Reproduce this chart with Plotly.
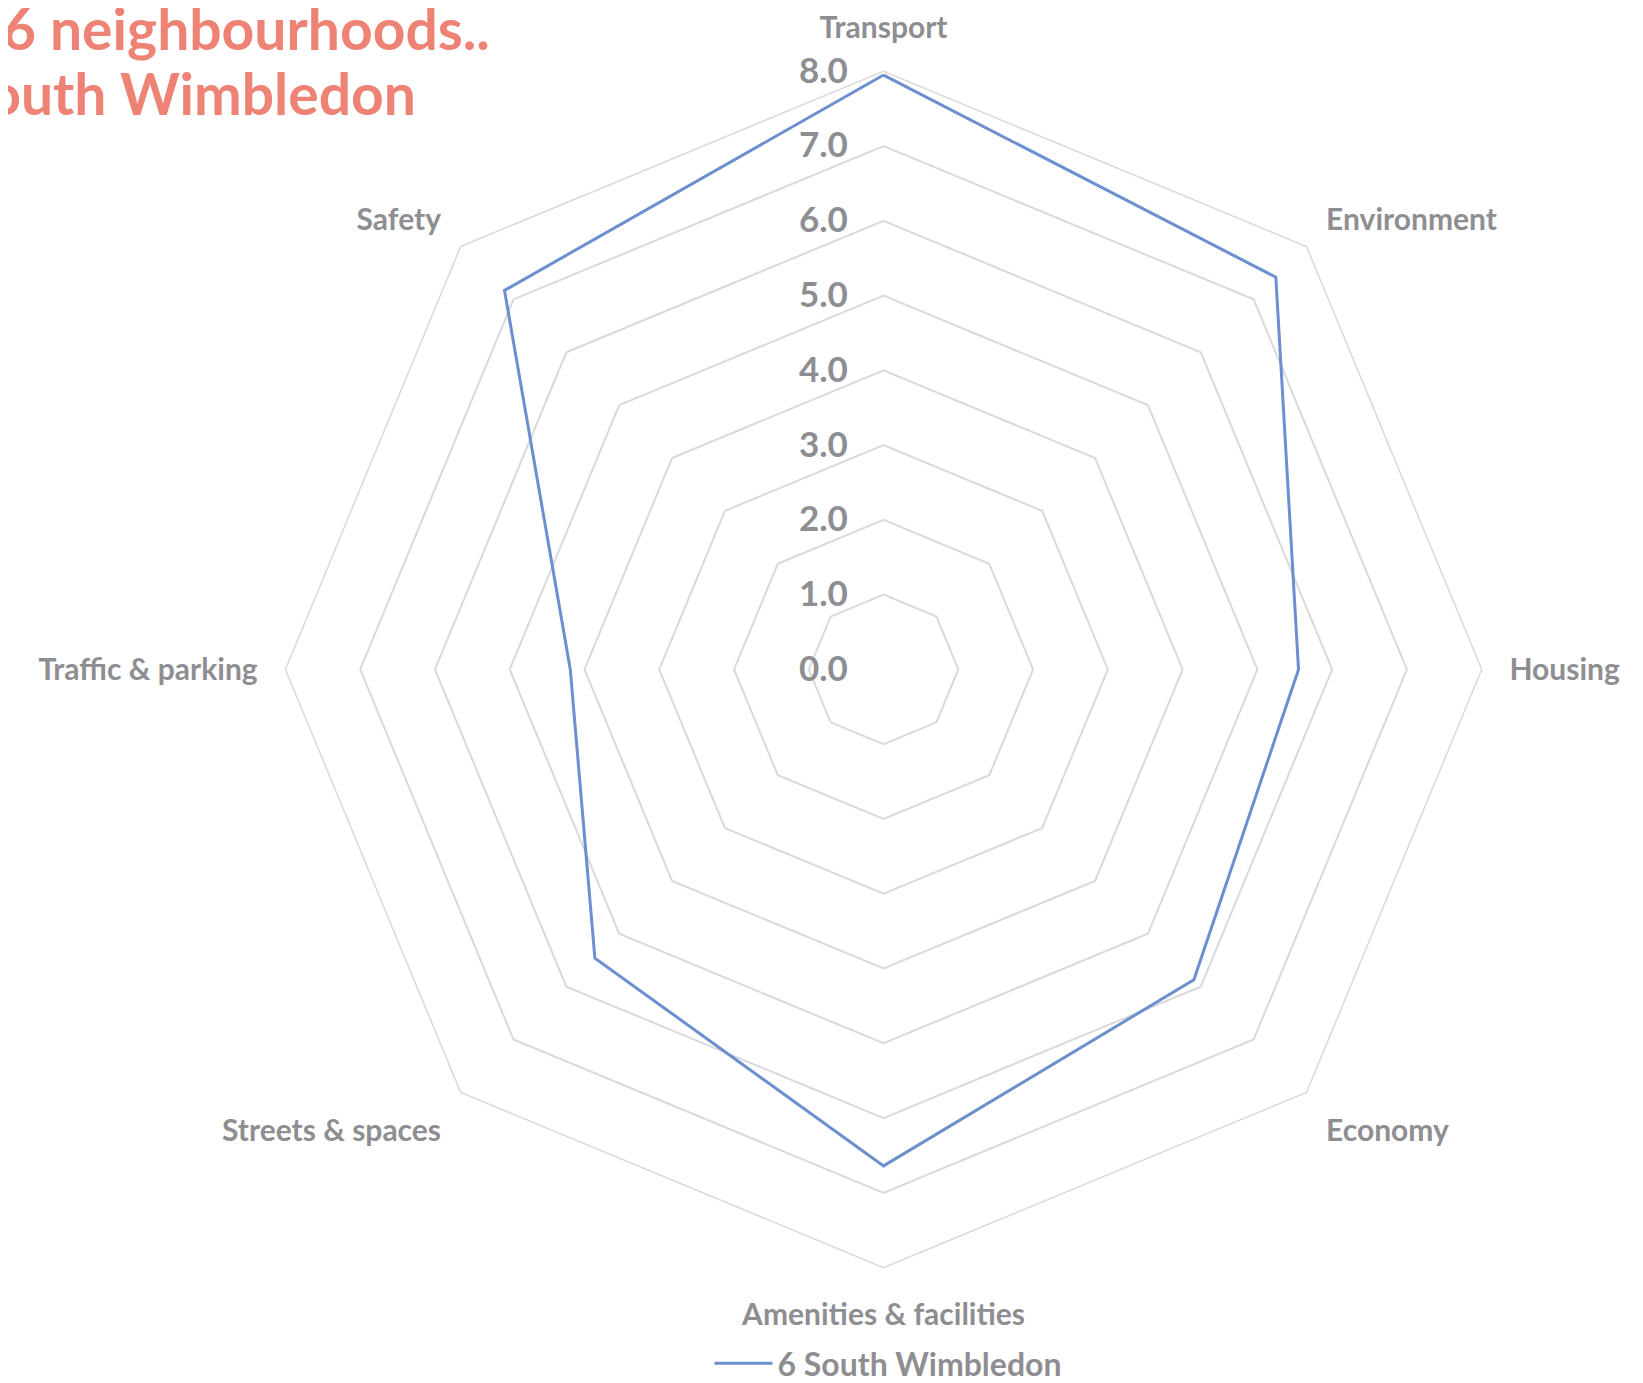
import plotly.graph_objects as go

# categories and values
categories = ["Transport", "Environment", "Housing", "Economy",
              "Amenities & facilities", "Streets & spaces", "Traffic & parking", "Safety"]
scores = [7.95, 7.42, 5.55, 5.87, 6.64, 5.46, 4.19, 7.17]
series_name = "6 South Wimbledon"
title_lines = ["Q6 neighbourhoods..", "South Wimbledon"]

grey = "#8e8e92"
grid = "#d9d9d9"

fig = go.Figure()
fig.add_trace(go.Scatterpolar(
    r=scores + scores[:1],
    theta=categories + categories[:1],
    mode="lines",
    name=series_name,
    line=dict(color="#6b8fcf", width=3),
))

fig.update_layout(
    width=1643, height=1383,
    margin=dict(l=0, r=0, t=0, b=0),
    paper_bgcolor="white",
    font=dict(family="Lato", color=grey, size=30, weight="bold"),
    polar=dict(
        domain=dict(x=[0.1616, 0.9042], y=[0.0711, 0.9533]),
        bgcolor="white",
        gridshape="linear",
        radialaxis=dict(range=[0, 8], dtick=1, tickformat=".1f", angle=90, tickangle=90,
                        side="counterclockwise", showline=False,
                        ticks="outside", ticklen=23, tickcolor="rgba(0,0,0,0)",
                        gridcolor=grid, gridwidth=1.5,
                        tickfont=dict(size=35, color=grey)),
        angularaxis=dict(rotation=90, direction="clockwise", showgrid=False,
                         showline=True, linecolor=grid, linewidth=1.5,
                         ticks="outside", ticklen=21, tickcolor="rgba(0,0,0,0)",
                         tickfont=dict(size=30, color=grey)),
    ),
    showlegend=True,
    legend=dict(orientation="h", x=0.5356, xanchor="center", y=-0.02, yanchor="bottom",
                itemwidth=58, font=dict(size=32, color=grey)),
)

for i, line in enumerate(title_lines):
    fig.add_annotation(
        text=line, xref="paper", yref="paper",
        x=-0.0325, y=1.012 - i * 0.048, xanchor="left", yanchor="top", align="left",
        showarrow=False,
        font=dict(size=57, color="#ee8275", family="Lato", weight="bold"),
    )

fig.write_html("out.html")
